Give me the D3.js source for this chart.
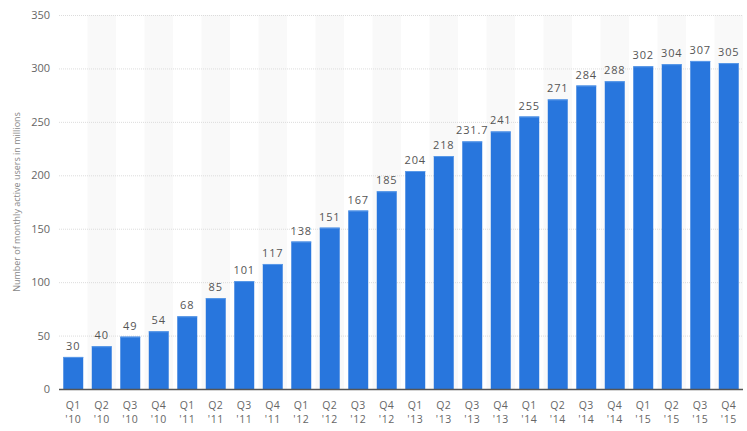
<!DOCTYPE html>
<html>
<head>
<meta charset="utf-8">
<script src="https://cdn.jsdelivr.net/npm/d3@7"></script>
<style>
  body { margin: 0; background: #fff; }
  svg { display: block; font-family: "Open Sans", "DejaVu Sans", sans-serif; }
</style>
</head>
<body>
<svg id="chart" width="747" height="431"></svg>
<script>
var quarters = ["Q1", "Q2", "Q3", "Q4", "Q1", "Q2", "Q3", "Q4", "Q1", "Q2", "Q3", "Q4",
  "Q1", "Q2", "Q3", "Q4", "Q1", "Q2", "Q3", "Q4", "Q1", "Q2", "Q3", "Q4"];
var years = ["'10", "'10", "'10", "'10", "'11", "'11", "'11", "'11", "'12", "'12", "'12", "'12",
  "'13", "'13", "'13", "'13", "'14", "'14", "'14", "'14", "'15", "'15", "'15", "'15"];
var users = [30, 40, 49, 54, 68, 85, 101, 117, 138, 151, 167, 185,
  204, 218, 231.7, 241, 255, 271, 284, 288, 302, 304, 307, 305];
var yTicks = [0, 50, 100, 150, 200, 250, 300, 350];

var margin = { top: 15, right: 4, bottom: 42, left: 59 };
var svg = d3.select("#chart");
var width = +svg.attr("width") - margin.left - margin.right;
var height = +svg.attr("height") - margin.top - margin.bottom;

var g = svg.append("g").attr("transform", "translate(" + margin.left + "," + margin.top + ")");

var ids = users.map(function(d, i) { return i; });

var x = d3.scaleBand().domain(ids).range([0, width]).paddingInner(0.3).paddingOuter(0.15);
var xBand = d3.scaleBand().domain(ids).range([0, width]);
var y = d3.scaleLinear().domain([0, 350]).range([height, 0]);

// alternating column shading
g.selectAll("rect.shade")
  .data(ids.filter(function(i) { return i % 2 === 1; }))
  .enter()
  .append("rect")
  .attr("class", "shade")
  .attr("x", function(i) { return xBand(i); })
  .attr("y", 0)
  .attr("width", xBand.bandwidth())
  .attr("height", height)
  .attr("fill", "#f9f9f9");

// gridlines
g.selectAll("line.grid")
  .data(yTicks.slice(1))
  .enter()
  .append("line")
  .attr("class", "grid")
  .attr("x1", 0)
  .attr("x2", width)
  .attr("y1", function(d) { return y(d) + 0.5; })
  .attr("y2", function(d) { return y(d) + 0.5; })
  .attr("stroke", "#dcdcdc")
  .attr("stroke-dasharray", "1,1");

// y axis labels
var yAxis = d3.axisLeft(y).tickValues(yTicks).tickSize(0).tickPadding(9);
g.append("g")
  .call(yAxis)
  .call(function(sel) {
    sel.select(".domain").remove();
    sel.selectAll("text")
      .attr("fill", "#666")
      .style("font-size", "11px")
      .style("font-family", "\"Open Sans\", sans-serif");
  });

// bars
g.selectAll("rect.bar")
  .data(users)
  .enter()
  .append("rect")
  .attr("class", "bar")
  .attr("x", function(d, i) { return x(i); })
  .attr("y", function(d) { return y(d); })
  .attr("width", x.bandwidth())
  .attr("height", function(d) { return height - y(d); })
  .attr("fill", "#2876dd");

// lighter top edge on bars
g.selectAll("rect.bartop")
  .data(users)
  .enter()
  .append("rect")
  .attr("class", "bartop")
  .attr("x", function(d, i) { return x(i); })
  .attr("y", function(d) { return y(d); })
  .attr("width", x.bandwidth())
  .attr("height", 1)
  .attr("fill", "#5b9ae8");

// value labels
g.selectAll("text.value")
  .data(users)
  .enter()
  .append("text")
  .attr("class", "value")
  .attr("x", function(d, i) { return x(i) + x.bandwidth() / 2; })
  .attr("y", function(d) { return y(d) - 7; })
  .attr("text-anchor", "middle")
  .attr("fill", "#555")
  .style("font-size", "11px")
  .style("letter-spacing", "0.9px")
  .text(function(d) { return d; });

// baseline
g.append("line")
  .attr("x1", 0)
  .attr("x2", width)
  .attr("y1", height + 0.5)
  .attr("y2", height + 0.5)
  .attr("stroke", "#555")
  .attr("stroke-width", 1.5);

// x axis labels, quarter line and year line
g.selectAll("text.xq")
  .data(ids)
  .enter()
  .append("text")
  .attr("class", "xq")
  .attr("x", function(i) { return x(i) + x.bandwidth() / 2; })
  .attr("y", height + 19.5)
  .attr("text-anchor", "middle")
  .attr("fill", "#666")
  .style("font-size", "10.5px")
  .style("letter-spacing", "0.5px")
  .text(function(i) { return quarters[i]; });

g.selectAll("text.xy")
  .data(ids)
  .enter()
  .append("text")
  .attr("class", "xy")
  .attr("x", function(i) { return x(i) + x.bandwidth() / 2; })
  .attr("y", height + 34)
  .attr("text-anchor", "middle")
  .attr("fill", "#666")
  .style("font-size", "10.5px")
  .style("letter-spacing", "0.5px")
  .text(function(i) { return years[i]; });

// y axis title
svg.append("text")
  .attr("transform", "translate(20," + (margin.top + height / 2) + ") rotate(-90)")
  .attr("text-anchor", "middle")
  .attr("fill", "#888")
  .style("font-size", "9px")
  .text("Number of monthly active users in millions");
</script>
</body>
</html>
